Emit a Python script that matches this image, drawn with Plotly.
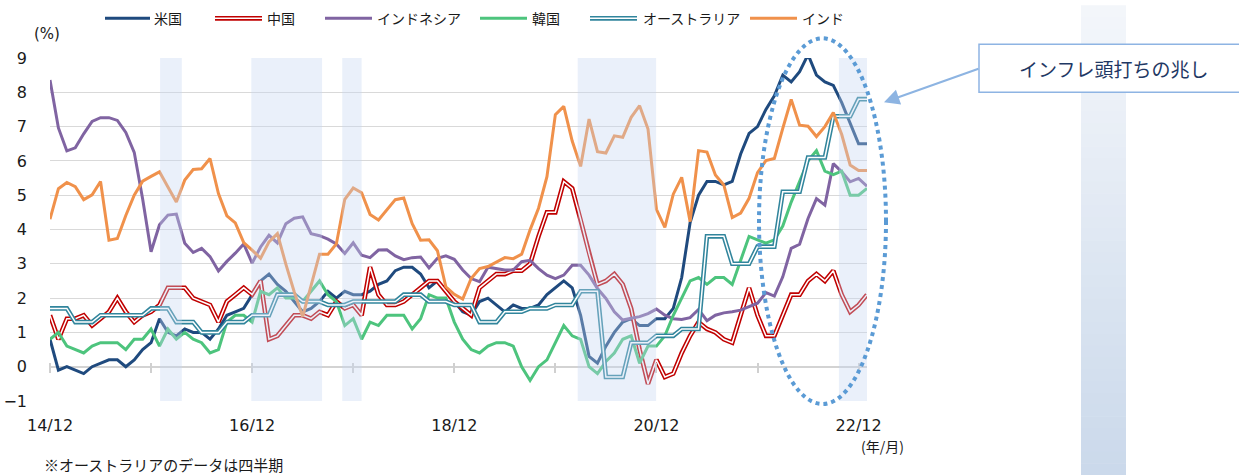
import numpy as np
import pandas as pd
import plotly.graph_objects as go

# ---------------- data ----------------
MONTHS = [d.strftime("%y/%m") for d in pd.date_range("2014-12-01", "2023-01-01", freq="MS")]
LABEL_MONTHS = ["14/12", "16/12", "18/12", "20/12", "22/12"]
TICK_MONTHS = ["14/12", "15/12", "16/12", "17/12", "18/12", "19/12", "20/12", "21/12", "22/12"]

US = [0.8, -0.1, 0.0, -0.1, -0.2, 0.0, 0.1, 0.2, 0.2, 0.0,
      0.2, 0.5, 0.7, 1.4, 1.0, 0.9, 1.1, 1.0, 1.0, 0.8,
      1.1, 1.5, 1.6, 1.7, 2.1, 2.5, 2.7, 2.4, 2.2, 1.9,
      1.6, 1.7, 1.9, 2.2, 2.0, 2.2, 2.1, 2.1, 2.2, 2.4,
      2.5, 2.8, 2.9, 2.9, 2.7, 2.3, 2.5, 2.2, 1.9, 1.6,
      1.5, 1.9, 2.0, 1.8, 1.6, 1.8, 1.7, 1.7, 1.8, 2.1,
      2.3, 2.5, 2.3, 1.5, 0.3, 0.1, 0.6, 1.0, 1.3, 1.4,
      1.2, 1.2, 1.4, 1.4, 1.7, 2.6, 4.2, 5.0, 5.4, 5.4,
      5.3, 5.4, 6.2, 6.8, 7.0, 7.5, 7.9, 8.5, 8.3, 8.6,
      9.1, 8.5, 8.3, 8.2, 7.7, 7.1, 6.5, 6.5]

CHINA = [1.5, 0.8, 1.4, 1.4, 1.5, 1.2, 1.4, 1.6, 2.0, 1.6,
         1.3, 1.5, 1.6, 1.8, 2.3, 2.3, 2.3, 2.0, 1.9, 1.8,
         1.3, 1.9, 2.1, 2.3, 2.1, 2.5, 0.8, 0.9, 1.2, 1.5,
         1.5, 1.4, 1.6, 1.5, 1.9, 1.7, 1.8, 1.5, 2.9, 2.1,
         1.8, 1.8, 1.9, 2.1, 2.3, 2.5, 2.5, 2.2, 1.9, 1.7,
         1.5, 2.3, 2.5, 2.7, 2.7, 2.8, 2.8, 3.0, 3.8, 4.5,
         4.5, 5.4, 5.2, 4.3, 3.3, 2.4, 2.5, 2.7, 2.4, 1.7,
         0.5, -0.5, 0.2, -0.3, -0.2, 0.4, 0.9, 1.3, 1.1, 1.0,
         0.8, 0.7, 1.5, 2.3, 1.5, 0.9, 0.9, 1.5, 2.1, 2.1,
         2.5, 2.7, 2.5, 2.8, 2.1, 1.6, 1.8, 2.1]

INDONESIA = [8.36, 6.96, 6.29, 6.38, 6.79, 7.15, 7.26, 7.26, 7.18, 6.83,
             6.25, 4.89, 3.35, 4.14, 4.42, 4.45, 3.60, 3.33, 3.45, 3.21,
             2.79, 3.07, 3.31, 3.58, 3.02, 3.49, 3.83, 3.61, 4.17, 4.33,
             4.37, 3.88, 3.82, 3.72, 3.58, 3.30, 3.61, 3.25, 3.18, 3.40,
             3.41, 3.23, 3.12, 3.18, 3.20, 2.88, 3.16, 3.23, 3.13, 2.82,
             2.57, 2.48, 2.90, 2.87, 2.82, 2.82, 3.06, 3.10, 2.86, 2.67,
             2.57, 2.67, 2.96, 2.96, 2.67, 2.28, 1.99, 1.60, 1.36, 1.41,
             1.46, 1.55, 1.68, 1.50, 1.40, 1.38, 1.43, 1.67, 1.34, 1.50,
             1.57, 1.60, 1.65, 1.75, 1.85, 2.16, 2.06, 2.62, 3.45, 3.57,
             4.32, 4.90, 4.71, 5.92, 5.68, 5.39, 5.49, 5.26]

KOREA = [0.8, 1.0, 0.6, 0.5, 0.4, 0.6, 0.7, 0.7, 0.7, 0.5,
         0.8, 0.8, 1.1, 0.6, 1.1, 0.8, 1.0, 0.8, 0.7, 0.4,
         0.5, 1.3, 1.5, 1.5, 1.3, 2.2, 2.1, 2.3, 2.0, 2.0,
         1.9, 2.2, 2.5, 2.1, 1.9, 1.2, 1.4, 0.8, 1.3, 1.2,
         1.5, 1.5, 1.5, 1.1, 1.4, 2.1, 2.0, 2.0, 1.3, 0.8,
         0.5, 0.4, 0.6, 0.7, 0.7, 0.6, 0.0, -0.4, 0.0, 0.2,
         0.7, 1.2, 0.9, 0.8, 0.0, -0.2, 0.15, 0.4, 0.8, 0.9,
         0.1, 0.6, 0.6, 0.9, 1.5, 2.0, 2.5, 2.6, 2.4, 2.6,
         2.6, 2.4, 3.1, 3.8, 3.7, 3.6, 3.7, 4.1, 4.8, 5.4,
         6.0, 6.3, 5.7, 5.6, 5.7, 5.0, 5.0, 5.2]

# quarterly data, shown monthly (value held until next quarter)
AUSTRALIA = [1.7, 1.7, 1.7, 1.3, 1.3, 1.3, 1.5, 1.5, 1.5, 1.5,
             1.5, 1.5, 1.7, 1.7, 1.7, 1.3, 1.3, 1.3, 1.0, 1.0,
             1.0, 1.3, 1.3, 1.3, 1.5, 1.5, 1.5, 2.1, 2.1, 2.1,
             1.9, 1.9, 1.9, 1.8, 1.8, 1.8, 1.9, 1.9, 1.9, 1.9,
             1.9, 1.9, 2.1, 2.1, 2.1, 1.9, 1.9, 1.9, 1.8, 1.8,
             1.8, 1.3, 1.3, 1.3, 1.6, 1.6, 1.6, 1.7, 1.7, 1.7,
             1.8, 1.8, 1.8, 2.2, 2.2, 2.2, -0.3, -0.3, -0.3, 0.7,
             0.7, 0.7, 0.9, 0.9, 0.9, 1.1, 1.1, 1.1, 3.8, 3.8,
             3.8, 3.0, 3.0, 3.0, 3.5, 3.5, 3.5, 5.1, 5.1, 5.1,
             6.1, 6.1, 6.1, 7.3, 7.3, 7.3, 7.8, 7.8]

INDIA = [4.30, 5.19, 5.37, 5.25, 4.87, 5.01, 5.40, 3.69, 3.74, 4.41,
         5.00, 5.41, 5.55, 5.68, 5.24, 4.80, 5.44, 5.75, 5.77, 6.07,
         5.05, 4.40, 4.19, 3.62, 3.40, 3.16, 3.64, 3.88, 2.99, 2.18,
         1.46, 2.36, 3.28, 3.28, 3.58, 4.88, 5.21, 5.07, 4.44, 4.28,
         4.58, 4.87, 4.92, 4.17, 3.69, 3.70, 3.38, 2.33, 2.11, 1.97,
         2.57, 2.86, 2.92, 3.05, 3.18, 3.15, 3.28, 3.99, 4.62, 5.54,
         7.35, 7.59, 6.58, 5.84, 7.22, 6.27, 6.23, 6.73, 6.69, 7.27,
         7.61, 6.93, 4.59, 4.06, 5.03, 5.52, 4.23, 6.30, 6.26, 5.59,
         5.30, 4.35, 4.48, 4.91, 5.66, 6.01, 6.07, 6.95, 7.79, 7.04,
         7.01, 6.71, 7.00, 7.41, 6.77, 5.88, 5.72, 5.72]

SERIES_NAMES = ["米国", "中国", "インドネシア", "韓国", "オーストラリア", "インド"]
# shaded periods, in month-index units along the category axis
SHADED_PERIODS = [(13.07, 15.65), (23.9, 32.3), (34.7, 37.0), (62.65, 71.96), (93.67, 97.03)]

# ---------------- styles ----------------
COLORS = ["#1F4A7E", "#C00000", "#8064A2", "#4DC47D", "#31859C", "#F0914B"]
DOUBLE = [False, True, False, False, True, False]
VALUES = [US, CHINA, INDONESIA, KOREA, AUSTRALIA, INDIA]

W, H = 1239, 475
PL, PR, PT, PB = 50, 867, 57.7, 401.0   # plot area in pixels


def px(xp):
    return (xp - PL) / (PR - PL)


def py(yp):
    return (PB - yp) / (PB - PT)


X = np.arange(len(MONTHS))
label_idx = [MONTHS.index(m) for m in LABEL_MONTHS]
tick_idx = [MONTHS.index(m) for m in TICK_MONTHS]

fig = go.Figure()
for name, vals, col, dbl in zip(SERIES_NAMES, VALUES, COLORS, DOUBLE):
    fig.add_trace(go.Scatter(x=X, y=vals, mode="lines", name=name,
                             line=dict(color=col, width=4.6 if dbl else 3.0),
                             showlegend=False, hoverinfo="skip"))
    if dbl:
        fig.add_trace(go.Scatter(x=X, y=vals, mode="lines", name=name,
                                 line=dict(color="white", width=1.5),
                                 showlegend=False, hoverinfo="skip"))

# dummy trace for tick-mark axis on the zero line
fig.add_trace(go.Scatter(x=[X[0], X[-1]], y=[None, None], xaxis="x2", mode="lines",
                         showlegend=False, hoverinfo="skip"))

shapes = []
# shaded periods (semi-transparent, drawn above lines)
for a, b in SHADED_PERIODS:
    shapes.append(dict(type="rect", xref="x", yref="paper", x0=a, x1=b, y0=0, y1=1,
                       fillcolor="rgba(198,214,240,0.36)", line=dict(width=0), layer="above"))

# dotted ellipse
shapes.append(dict(type="circle", xref="paper", yref="paper",
                   x0=px(759), x1=px(886), y0=py(404), y1=py(38),
                   line=dict(color="#5B9BD5", width=4, dash="4px,4px"), layer="above"))

# gradient decorative bar on the right
n = 40
top, bot = 5, 475
c0 = np.array([244, 247, 251])
c1 = np.array([203, 217, 235])
for k in range(n):
    t = (k + 0.5) / n
    c = (c0 + (c1 - c0) * t).astype(int)
    y_a = top + (bot - top) * k / n
    y_b = top + (bot - top) * (k + 1) / n + 0.6
    shapes.append(dict(type="rect", xref="paper", yref="paper",
                       x0=px(1081), x1=px(1126), y0=py(y_b), y1=py(y_a),
                       fillcolor=f"rgb({c[0]},{c[1]},{c[2]})", line=dict(width=0), layer="below"))

# annotation box
shapes.append(dict(type="rect", xref="paper", yref="paper",
                   x0=px(979), x1=px(1250), y0=py(92), y1=py(44),
                   fillcolor="white", line=dict(color="#8EB4E3", width=1.5), layer="above"))

# custom legend
LEG_Y = 18
leg_items = [(105, 150, 152), (215, 262, 265), (325, 372, 375),
             (480, 527, 530), (590, 637, 641), (750, 797, 800)]
annotations = []
for (x0, x1, xt), name, col, dbl in zip(leg_items, SERIES_NAMES, COLORS, DOUBLE):
    shapes.append(dict(type="line", xref="paper", yref="paper", x0=px(x0), x1=px(x1),
                       y0=py(LEG_Y), y1=py(LEG_Y), line=dict(color=col, width=4.6 if dbl else 3)))
    if dbl:
        shapes.append(dict(type="line", xref="paper", yref="paper", x0=px(x0), x1=px(x1),
                           y0=py(LEG_Y), y1=py(LEG_Y), line=dict(color="white", width=1.5)))
    annotations.append(dict(xref="paper", yref="paper", x=px(xt), y=py(LEG_Y), text=name,
                            showarrow=False, xanchor="left", yanchor="middle",
                            font=dict(family="Noto Sans CJK JP", size=14, color="#1a1a1a")))

annotations += [
    dict(xref="paper", yref="paper", x=px(47), y=py(34), text="(%)", showarrow=False,
         xanchor="center", yanchor="middle", font=dict(family="DejaVu Sans", size=15, color="#1a1a1a")),
    dict(xref="paper", yref="paper", x=px(882), y=py(446), text="(年/月)", showarrow=False,
         xanchor="center", yanchor="middle", font=dict(family="Noto Sans CJK JP", size=14, color="#1a1a1a")),
    dict(xref="paper", yref="paper", x=px(42), y=py(465), text="※オーストラリアのデータは四半期",
         showarrow=False, xanchor="left", yanchor="middle",
         font=dict(family="Noto Sans CJK JP", size=15, color="#1a1a1a")),
    dict(xref="paper", yref="paper", x=px(1113), y=py(68), text="インフレ頭打ちの兆し",
         showarrow=False, xanchor="center", yanchor="middle",
         font=dict(family="Noto Sans CJK JP", size=19, color="#1F3864")),
    dict(xref="paper", yref="paper", x=px(884), y=py(102), text="", showarrow=True,
         ax=96, ay=-34, arrowhead=2, arrowsize=1.4, arrowwidth=2.2, arrowcolor="#8DB4E2",
         standoff=0, startstandoff=0),
]

fig.update_layout(
    width=W, height=H, autosize=False,
    margin=dict(l=PL, r=W - PR, t=PT, b=H - PB, pad=0, autoexpand=False),
    paper_bgcolor="white", plot_bgcolor="white",
    shapes=shapes, annotations=annotations,
    xaxis=dict(range=[0, len(MONTHS) - 1], tickvals=label_idx, ticktext=LABEL_MONTHS,
               showgrid=False, zeroline=False, showline=False, ticks="",
               ticklabelstandoff=13, automargin=False,
               tickfont=dict(family="DejaVu Sans", size=16, color="#1a1a1a")),
    xaxis2=dict(overlaying="x", anchor="free", position=py(361.7), side="bottom",
                range=[0, len(MONTHS) - 1], tickvals=tick_idx, showticklabels=False,
                ticks="outside", ticklen=10, tickwidth=1.5, tickcolor="#D0D0D0",
                showgrid=False, zeroline=False, showline=False, automargin=False),
    yaxis=dict(range=[-1.0, 9.0], dtick=1, tick0=0, showgrid=True, gridcolor="#D9D9D9",
               gridwidth=1.4, zeroline=True, zerolinecolor="#D3D3D3", zerolinewidth=1.6,
               showline=False, ticks="", ticklabelstandoff=22, automargin=False,
               tickfont=dict(family="DejaVu Sans", size=16, color="#1a1a1a")),
)

fig.write_html("out.html", config={"displayModeBar": False},
               post_script="document.body.style.margin='0px';document.body.style.overflow='hidden';")
